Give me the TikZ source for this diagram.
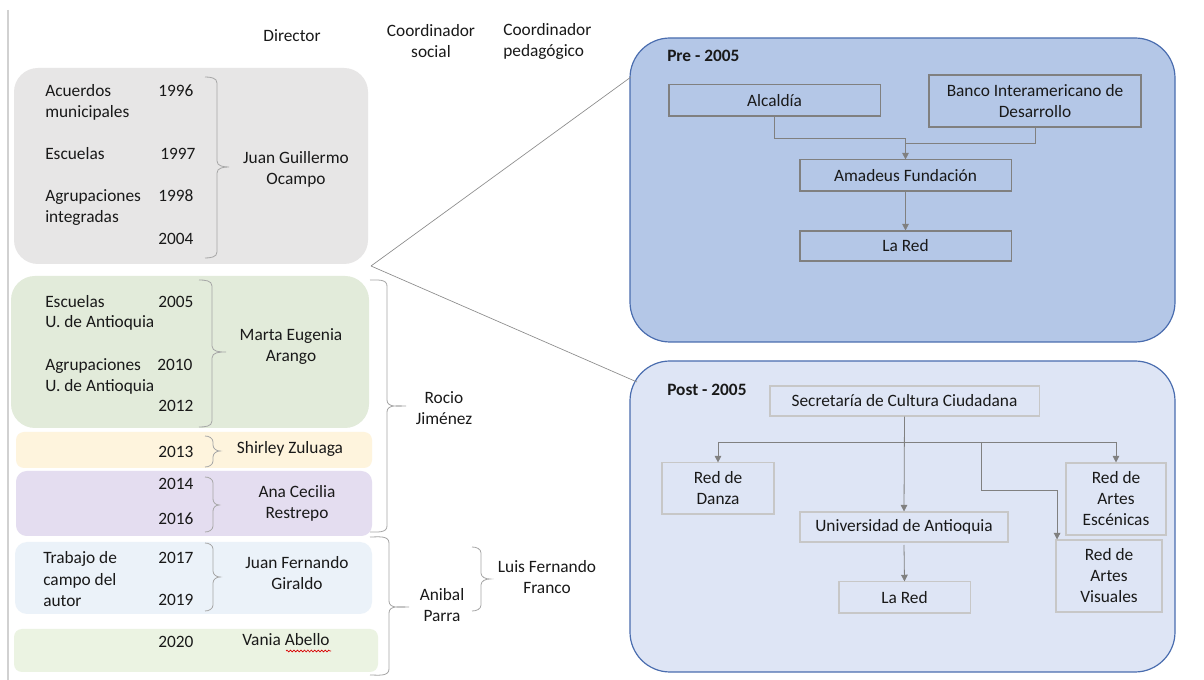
\documentclass[tikz,border=0pt]{standalone}
\usepackage{fontspec}
\setmainfont{Carlito}
\usetikzlibrary{arrows.meta,decorations.pathmorphing}
\definecolor{cgray}{HTML}{E7E6E6}
\definecolor{cgreen}{HTML}{E2EBDA}
\definecolor{cyellow}{HTML}{FEF4DD}
\definecolor{cpurple}{HTML}{E4DDF0}
\definecolor{cblue}{HTML}{EBF2F9}
\definecolor{cgreenb}{HTML}{EBF3E2}
\definecolor{cpre}{HTML}{B4C7E7}
\definecolor{cpost}{HTML}{DEE5F5}
\definecolor{cpanel}{HTML}{4A6DAF}
\newcommand\mybrace[6]{%
  \draw[brace] (#1,#4) to[out=0,in=90] (#2,#4+6) -- (#2,#5-6)
    to[out=-90,in=180] (#3,#5) to[out=180,in=90] (#2,#5+6) -- (#2,#6-6)
    to[out=-90,in=0] (#1,#6);}
\begin{document}
\begin{tikzpicture}[x=0.75pt,y=-0.75pt,
  every node/.style={font=\fontsize{13}{15.75}\selectfont, text=black!90, inner sep=0pt},
  lt/.style={anchor=base west},
  ct/.style={anchor=base},
  nm/.style={align=center},
  brace/.style={draw=black!35, line width=0.6pt},
  pbox/.style={draw=black!50, line width=0.8pt, align=center},
  qbox/.style={draw=black!22, line width=0.8pt, align=center},
  arr/.style={draw=black!50, line width=0.6pt, -{Triangle[width=5pt,length=5pt]}},
  ln/.style={draw=black!50, line width=0.6pt},
  panel/.style={line width=0.9pt, draw=cpanel, rounded corners=30pt},
  diag/.style={draw=black!45, line width=0.5pt}
  ]
\useasboundingbox (0,0) rectangle (1204,680);
\fill[white] (0,0) rectangle (1204,680);
% left border line
\draw[black!18, line width=0.8pt] (8,10) -- (8,680);

% headers
\node[ct] (hdir) at (292,42) {Director};
\node[nm] (hsoc) at (431,41.5) {Coordinador\\social};
\node[nm, anchor=west, align=left] (hped) at (503,41.5) {Coordinador\\pedagógico};

% left coloured boxes
\fill[cgray, rounded corners=18pt] (14,68) rectangle (368,264);
\fill[cgreen, rounded corners=18pt] (11,276) rectangle (369,428);
\fill[cyellow, rounded corners=6pt] (16,432) rectangle (372,468);
\fill[cpurple, rounded corners=8pt] (16,471) rectangle (372,536);
\fill[cblue, rounded corners=9pt] (15,542) rectangle (372,614);
\fill[cgreenb, rounded corners=6pt] (14,629) rectangle (378,672);

% box 1
\node[lt] (t1a) at (45,97) {Acuerdos};
\node[lt] (t1b) at (45,118) {municipales};
\node[lt] (y1996) at (158,97) {1996};
\node[lt] (t1c) at (45,160) {Escuelas};
\node[lt] (y1997) at (160,160) {1997};
\node[lt] (t1d) at (45,202) {Agrupaciones};
\node[lt] (y1998) at (158,202) {1998};
\node[lt] (t1e) at (45,223) {integradas};
\node[lt] (y2004) at (158,245) {2004};
\mybrace{205}{217}{229}{77}{167}{258}
\node[nm] (jgo) at (296,169.5) {Juan Guillermo\\Ocampo};

% box 2
\node[lt] (t2a) at (45,308) {Escuelas};
\node[lt] (y2005) at (158,308) {2005};
\node[lt] (t2b) at (45,328) {U. de Antioquia};
\node[lt] (t2c) at (45,371) {Agrupaciones};
\node[lt] (y2010) at (157,371) {2010};
\node[lt] (t2d) at (45,392) {U. de Antioquia};
\node[lt] (y2012) at (158,412) {2012};
\mybrace{199}{212}{226}{280}{352}{427}
\node[nm] (mea) at (291,347) {Marta Eugenia\\Arango};

% box 3
\node[lt] (y2013) at (158,458) {2013};
\mybrace{205}{213}{220}{436}{451}{467}
\node[ct] (shz) at (290,454) {Shirley Zuluaga};

% box 4
\node[lt] (y2014) at (158,490) {2014};
\node[lt] (y2016) at (158,525) {2016};
\mybrace{205}{213}{219}{477}{505}{532}
\node[nm] (acr) at (297,503.5) {Ana Cecilia\\Restrepo};

% box 5
\node[lt] (t5a) at (43,564) {Trabajo de};
\node[lt] (t5b) at (43,586) {campo del};
\node[lt] (t5c) at (43,607) {autor};
\node[lt] (y2017) at (158,564) {2017};
\node[lt] (y2019) at (158,606) {2019};
\mybrace{205}{213}{220}{543}{577}{611}
\node[nm] (jfg) at (297,573.5) {Juan Fernando\\Giraldo};

% box 6
\node[lt] (y2020) at (158,648) {2020};
\node[ct] (vab) at (286,646) {Vania Abello};
\draw[red!85!black, line width=0.5pt, decorate, decoration={snake, amplitude=0.7pt, segment length=2.6pt}] (286,651) -- (331,651);

% coordinator braces
\mybrace{370}{387}{406}{280}{406}{532}
\node[nm] (rj) at (444,408) {Rocio\\Jiménez};
\mybrace{370}{389}{409}{537}{607}{675}
\node[nm] (ap) at (442,605.5) {Anibal\\Parra};
\mybrace{472}{481}{490}{547}{579}{611}
\node[nm] (lff) at (547,577) {Luis Fernando\\Franco};

% panels
\draw[panel, fill=cpre] (630,38) rectangle (1175,342);
\draw[panel, fill=cpost] (630,361) rectangle (1175,672);

% zoom lines
\coordinate (zf) at (371,266);
\coordinate (zpre) at (631,77);
\coordinate (zpost) at (637,382);
\draw[diag] (zf) -- (zpre);
\draw[diag] (zf) -- (zpost);

% Pre - 2005
\node[lt, font=\fontsize{13}{15.75}\selectfont\bfseries] (pre) at (667,62) {Pre - 2005};
\node[pbox, minimum width=158.3pt, minimum height=23.3pt] (alc) at (774.5,100.5) {Alcaldía};
\node[pbox, minimum width=159pt, minimum height=39pt] (bid) at (1035,101) {Banco Interamericano de\\Desarrollo};
\node[pbox, minimum width=158.3pt, minimum height=23.3pt] (amad) at (905.5,175.5) {Amadeus Fundación};
\node[pbox, minimum width=158.3pt, minimum height=22.5pt] (red1) at (905.5,246) {La Red};
\draw[arr] (alc.south) -- (alc.south |- 0,138) -| (amad.north);
\draw[ln] (bid.south) -- (bid.south |- 0,143) -- (amad.north |- 0,143);
\draw[arr] (amad.south) -- (red1.north);

% Post - 2005
\node[lt, font=\fontsize{13}{15.75}\selectfont\bfseries] (post) at (667,396) {Post - 2005};
\node[qbox, minimum width=201.8pt, minimum height=22.5pt] (sec) at (904.5,401) {Secretaría de Cultura Ciudadana};
\node[qbox, minimum width=84pt, minimum height=38.3pt] (danza) at (718,488.5) {Red de\\Danza};
\node[qbox, minimum width=156pt, minimum height=22.5pt] (univ) at (904,527) {Universidad de Antioquia};
\node[qbox, minimum width=98.3pt, minimum height=23.3pt] (red2) at (904.5,597.5) {La Red};
\node[qbox, minimum width=75pt, minimum height=54pt] (esc) at (1116,499) {Red de\\Artes\\Escénicas};
\node[qbox, minimum width=79.5pt, minimum height=54pt] (vis) at (1109,576) {Red de\\Artes\\Visuales};
\draw[arr] (sec.south) -- (univ.north);
\draw[ln] (danza.north |- 0,442) -- (esc.north |- 0,442);
\draw[arr] (danza.north |- 0,442) -- (danza.north);
\draw[arr] (esc.north |- 0,442) -- (esc.north);
\draw[arr] (981,442) -- (981,490) -| ([xshift=1.2pt]vis.north west);
\draw[arr] (univ.south |- 0,545) -- (red2.north);
\end{tikzpicture}
\end{document}
